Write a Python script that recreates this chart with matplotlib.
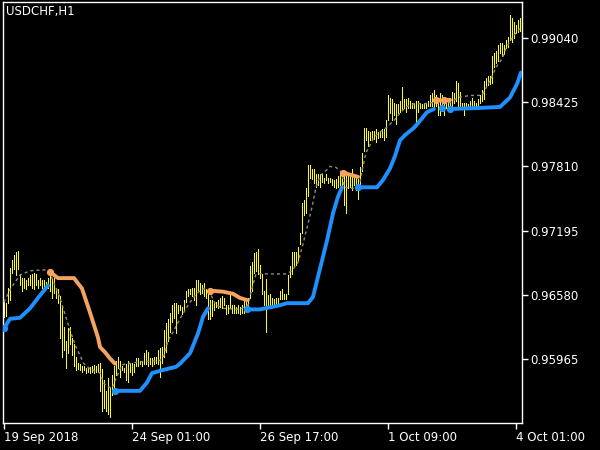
import numpy as np
import matplotlib
matplotlib.use("Agg")
import matplotlib.pyplot as plt

# --- USDCHF H1 bars (high / low), one per hour ---
bar_high = [
    0.9651, 0.9650, 0.9665, 0.9684, 0.9691, 0.9696, 0.9699, 0.9700, 0.9678, 0.9674,
    0.9674, 0.9672, 0.9674, 0.9677, 0.9678, 0.9679, 0.9678, 0.9672, 0.9674, 0.9672,
    0.9672, 0.9670, 0.9674, 0.9679, 0.9674, 0.9674, 0.9665, 0.9664, 0.9657, 0.9646,
    0.9627, 0.9614, 0.9626, 0.9627, 0.9617, 0.9611, 0.9598, 0.9593, 0.9592, 0.9590,
    0.9590, 0.9588, 0.9588, 0.9589, 0.9590, 0.9591, 0.9590, 0.9592, 0.9593, 0.9587,
    0.9576, 0.9566, 0.9578, 0.9569, 0.9581, 0.9590, 0.9595, 0.9598, 0.9595, 0.9590,
    0.9588, 0.9592, 0.9595, 0.9593, 0.9593, 0.9592, 0.9597, 0.9597, 0.9595, 0.9595,
    0.9602, 0.9605, 0.9603, 0.9597, 0.9597, 0.9598, 0.9598, 0.9605, 0.9607, 0.9608,
    0.9624, 0.9631, 0.9635, 0.9641, 0.9648, 0.9650, 0.9650, 0.9648, 0.9648, 0.9646,
    0.9653, 0.9662, 0.9664, 0.9664, 0.9665, 0.9665, 0.9672, 0.9672, 0.9669, 0.9667,
    0.9669, 0.9664, 0.9660, 0.9653, 0.9653, 0.9650, 0.9651, 0.9653, 0.9655, 0.9657,
    0.9655, 0.9648, 0.9648, 0.9659, 0.9648, 0.9648, 0.9646, 0.9648, 0.9646, 0.9648,
    0.9655, 0.9655, 0.9655, 0.9686, 0.9689, 0.9698, 0.9699, 0.9702, 0.9687, 0.9678,
    0.9662, 0.9673, 0.9658, 0.9659, 0.9655, 0.9654, 0.9655, 0.9655, 0.9662, 0.9664,
    0.9659, 0.9659, 0.9677, 0.9686, 0.9699, 0.9699, 0.9699, 0.9704, 0.9717, 0.9746,
    0.9749, 0.9760, 0.9782, 0.9782, 0.9779, 0.9779, 0.9774, 0.9774, 0.9774, 0.9774,
    0.9770, 0.9774, 0.9770, 0.9770, 0.9769, 0.9768, 0.9769, 0.9772, 0.9775, 0.9772,
    0.9777, 0.9772, 0.9775, 0.9773, 0.9779, 0.9774, 0.9773, 0.9769, 0.9780, 0.9794,
    0.9818, 0.9818, 0.9815, 0.9814, 0.9815, 0.9815, 0.9817, 0.9814, 0.9815, 0.9817,
    0.9817, 0.9825, 0.9849, 0.9847, 0.9846, 0.9842, 0.9841, 0.9841, 0.9844, 0.9857,
    0.9846, 0.9846, 0.9847, 0.9844, 0.9842, 0.9842, 0.9844, 0.9844, 0.9842, 0.9841,
    0.9842, 0.9842, 0.9844, 0.9849, 0.9851, 0.9854, 0.9849, 0.9846, 0.9851, 0.9849,
    0.9844, 0.9847, 0.9846, 0.9847, 0.9852, 0.9851, 0.9863, 0.9861, 0.9852, 0.9842,
    0.9842, 0.9842, 0.9841, 0.9844, 0.9847, 0.9844, 0.9842, 0.9846, 0.9849, 0.9854,
    0.9863, 0.9866, 0.9868, 0.9868, 0.9887, 0.9890, 0.9892, 0.9897, 0.9899, 0.9899,
    0.9897, 0.9902, 0.9905, 0.9926, 0.9923, 0.9919, 0.9916, 0.9921, 0.9923,
]
bar_low = [
    0.9637, 0.9638, 0.9650, 0.9653, 0.9679, 0.9683, 0.9677, 0.9683, 0.9667, 0.9662,
    0.9665, 0.9664, 0.9667, 0.9667, 0.9665, 0.9664, 0.9667, 0.9665, 0.9667, 0.9665,
    0.9665, 0.9665, 0.9665, 0.9662, 0.9655, 0.9660, 0.9655, 0.9650, 0.9617, 0.9598,
    0.9605, 0.9588, 0.9602, 0.9611, 0.9600, 0.9590, 0.9586, 0.9587, 0.9586, 0.9584,
    0.9586, 0.9583, 0.9584, 0.9583, 0.9584, 0.9583, 0.9584, 0.9584, 0.9566, 0.9547,
    0.9550, 0.9547, 0.9544, 0.9541, 0.9562, 0.9566, 0.9581, 0.9588, 0.9579, 0.9586,
    0.9584, 0.9576, 0.9574, 0.9584, 0.9581, 0.9584, 0.9590, 0.9590, 0.9592, 0.9590,
    0.9592, 0.9592, 0.9590, 0.9592, 0.9590, 0.9592, 0.9593, 0.9592, 0.9579, 0.9593,
    0.9598, 0.9603, 0.9614, 0.9622, 0.9632, 0.9636, 0.9621, 0.9641, 0.9643, 0.9640,
    0.9643, 0.9651, 0.9657, 0.9659, 0.9657, 0.9653, 0.9648, 0.9662, 0.9659, 0.9660,
    0.9657, 0.9655, 0.9635, 0.9635, 0.9638, 0.9643, 0.9646, 0.9645, 0.9646, 0.9645,
    0.9648, 0.9640, 0.9641, 0.9645, 0.9641, 0.9641, 0.9641, 0.9641, 0.9640, 0.9641,
    0.9641, 0.9645, 0.9646, 0.9655, 0.9662, 0.9679, 0.9681, 0.9678, 0.9674, 0.9659,
    0.9648, 0.9622, 0.9645, 0.9648, 0.9648, 0.9649, 0.9648, 0.9650, 0.9654, 0.9654,
    0.9654, 0.9654, 0.9659, 0.9675, 0.9678, 0.9686, 0.9687, 0.9691, 0.9707, 0.9717,
    0.9734, 0.9736, 0.9753, 0.9770, 0.9769, 0.9765, 0.9761, 0.9763, 0.9761, 0.9766,
    0.9765, 0.9768, 0.9765, 0.9766, 0.9763, 0.9761, 0.9760, 0.9761, 0.9763, 0.9761,
    0.9744, 0.9736, 0.9760, 0.9761, 0.9758, 0.9763, 0.9758, 0.9750, 0.9762, 0.9777,
    0.9796, 0.9806, 0.9801, 0.9806, 0.9806, 0.9807, 0.9804, 0.9808, 0.9809, 0.9809,
    0.9806, 0.9809, 0.9825, 0.9832, 0.9825, 0.9830, 0.9822, 0.9832, 0.9833, 0.9835,
    0.9837, 0.9833, 0.9837, 0.9837, 0.9837, 0.9837, 0.9822, 0.9833, 0.9837, 0.9837,
    0.9837, 0.9837, 0.9839, 0.9839, 0.9839, 0.9837, 0.9839, 0.9830, 0.9830, 0.9841,
    0.9830, 0.9837, 0.9839, 0.9837, 0.9839, 0.9842, 0.9844, 0.9839, 0.9837, 0.9837,
    0.9830, 0.9837, 0.9837, 0.9837, 0.9837, 0.9837, 0.9837, 0.9839, 0.9842, 0.9844,
    0.9846, 0.9857, 0.9859, 0.9860, 0.9861, 0.9876, 0.9880, 0.9882, 0.9890, 0.9887,
    0.9889, 0.9894, 0.9895, 0.9902, 0.9900, 0.9904, 0.9909, 0.9910, 0.9911,
]

# --- moving average (grey dotted line), bar index -> price ---
ma_idx = [0, 3, 8, 13, 20, 23, 28, 33, 36, 40, 43, 48, 50, 54, 56, 59, 68, 78, 80, 82,
          85, 88, 92, 95, 98, 100, 103, 106, 110, 118, 122, 124, 126, 129, 141, 144, 147, 149, 152, 154,
          156, 158, 161, 163, 166, 169, 170, 175, 178, 179, 181, 185, 188, 191, 195, 198, 201, 205, 210, 213,
          223, 227, 233, 239, 241, 244, 246, 249, 251, 254, 256, 258]
ma_val = [0.9651, 0.9663, 0.9677, 0.9681, 0.9682, 0.9679, 0.9655, 0.9624, 0.9608, 0.9592,
          0.9587, 0.9583, 0.9573, 0.9568, 0.9578, 0.9591, 0.9594, 0.9595, 0.9600, 0.9614,
          0.9624, 0.9635, 0.9648, 0.9656, 0.9662, 0.9664, 0.9660, 0.9648, 0.9645, 0.9644,
          0.9648, 0.9664, 0.9678, 0.9678, 0.9678, 0.9681, 0.9689, 0.9703, 0.9726, 0.9742,
          0.9761, 0.9772, 0.9777, 0.9781, 0.9780, 0.9775, 0.9761, 0.9760, 0.9765, 0.9777,
          0.9794, 0.9809, 0.9814, 0.9818, 0.9825, 0.9832, 0.9838, 0.9841, 0.9841, 0.9842,
          0.9842, 0.9847, 0.9849, 0.9849, 0.9856, 0.9867, 0.9876, 0.9884, 0.9894, 0.9904,
          0.9909, 0.9913]

# --- trend line (thick), split in up (blue) and down (orange) pieces ---
trend_segments = [
    ("up",   [0, 3, 8, 13, 17, 22],
             [0.9626, 0.9635, 0.9636, 0.9645, 0.9655, 0.9667]),
    ("down", [23, 27, 35, 39, 43, 47, 48, 50.5, 53, 55.5],
             [0.9680, 0.9674, 0.9674, 0.9664, 0.9641, 0.9617, 0.9608, 0.9603, 0.9597, 0.9592]),
    ("up",   [55.5, 68, 71.5, 74, 79.5, 86, 88, 93, 97, 99.5, 102],
             [0.9566, 0.9566, 0.9574, 0.9583, 0.9586, 0.9589, 0.9592, 0.9602, 0.9621, 0.9637, 0.9645]),
    ("down", [103, 109.5, 114.5, 118, 121.5],
             [0.9662, 0.9661, 0.9659, 0.9655, 0.9653]),
    ("up",   [121.5, 128, 133, 138, 141.5, 152, 154.5, 158, 161.5, 164.5, 167, 169],
             [0.9644, 0.9644, 0.9646, 0.9648, 0.9650, 0.9650, 0.9656, 0.9683, 0.9710, 0.9736, 0.9752, 0.9761]),
    ("down", [169.5, 177],
             [0.9775, 0.9771]),
    ("up",   [177, 186.5, 189.5, 193, 195.5, 198, 200.5, 205, 209, 211.5, 215],
             [0.9761, 0.9761, 0.9768, 0.9779, 0.9791, 0.9806, 0.9811, 0.9818, 0.9827, 0.9833, 0.9836]),
    ("down", [216, 218], [0.9845, 0.9845]),
    ("up",   [219], [0.9837]),
    ("down", [220, 223], [0.9845, 0.9845]),
    ("up",   [223, 238, 248, 253, 256.5, 258.5],
             [0.9836, 0.9837, 0.9838, 0.9847, 0.9860, 0.9871]),
]

price_ticks = [0.99040, 0.98425, 0.97810, 0.97195, 0.96580, 0.95965]
time_tick_idx = [0, 64, 128, 192, 256]
time_tick_labels = ["19 Sep 2018", "24 Sep 01:00", "26 Sep 17:00", "1 Oct 09:00", "4 Oct 01:00"]

colors = {"up": "#1E90FF", "down": "#F4A460"}

fig = plt.figure(figsize=(6, 4.5), dpi=100, facecolor="black")
ax = fig.add_axes([3 / 600, 1 - 423 / 450, 519 / 600, 421 / 450])
ax.set_facecolor("black")

idx = np.arange(len(bar_high))
ax.vlines(idx, bar_low, bar_high, colors="#FFFF00", lw=0.72, antialiased=False, zorder=2)

ax.plot(ma_idx, ma_val, color="#8c8c8c", lw=1.0, linestyle=(0, (2.2, 2.2)), zorder=3)

for kind, xs, ys in trend_segments:
    ax.plot(xs, ys, color=colors[kind], lw=2.8, solid_capstyle="round", zorder=4)
    ax.plot(xs[0], ys[0], "o", color=colors[kind], ms=4.2, zorder=4)

ax.set_xlim(-0.5, 259)
ax.set_ylim(0.95352, 0.99385)

ax.yaxis.tick_right()
ax.set_yticks(price_ticks)
ax.set_yticklabels([f"{p:.5f}" for p in price_ticks])
ax.set_xticks(time_tick_idx)
ax.set_xticklabels(time_tick_labels, ha="left")

ax.tick_params(colors="white", labelcolor="white", labelsize=8.5, length=4, width=1,
               direction="out")
ax.tick_params(axis="x", pad=2)
ax.tick_params(axis="y", pad=2)
for s in ax.spines.values():
    s.set_color("white")
    s.set_linewidth(1)

ax.text(0.006, 0.993, "USDCHF,H1", transform=ax.transAxes, color="white",
        fontsize=8.5, ha="left", va="top")

fig.savefig("out.png", dpi=100, facecolor="black")
